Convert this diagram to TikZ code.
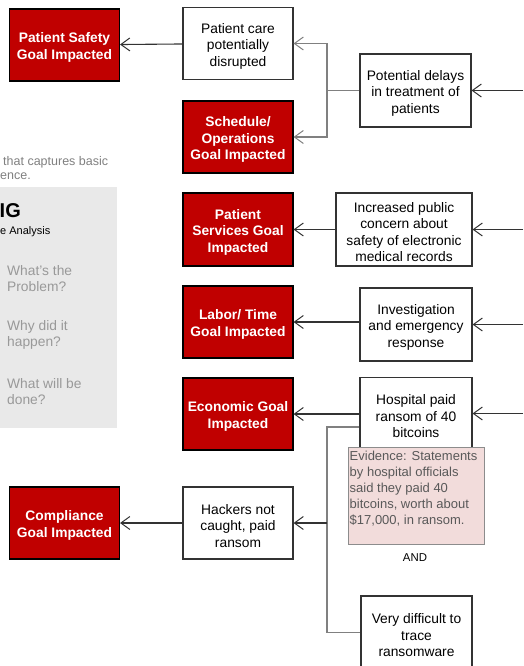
\documentclass[tikz,border=0pt]{standalone}
\usepackage{fontspec}
\setmainfont{Liberation Sans}
\usetikzlibrary{arrows.meta,calc}
\definecolor{goalred}{HTML}{C00000}
\definecolor{evfill}{HTML}{F2DCDB}
\definecolor{panelgray}{HTML}{E9E9E9}
\definecolor{hintgray}{HTML}{999999}

\begin{document}
\begin{tikzpicture}[x=1pt,y=-1pt,
    box/.style={draw=black!80,line width=1.1pt,fill=white,minimum width=110pt,minimum height=72pt,
      align=center,inner sep=1pt,font=\fontsize{13.8}{16.5}\selectfont,
      execute at begin node={\vbox\bgroup\vskip5.2pt\hbox\bgroup},
      execute at end node={\egroup\egroup}},
    goal/.style={box,fill=goalred,draw=black,text=white,font=\fontsize{13.8}{16.5}\selectfont\bfseries},
    link/.style={draw=black!80,line width=1.1pt,-{Straight Barb[length=9pt,width=13pt,line width=1pt]}},
    branch/.style={draw=black!50,line width=1.1pt},
    hint/.style={anchor=west,align=left,text=hintgray,inner sep=0pt,font=\fontsize{13.8}{16}\selectfont}]
  \path[use as bounding box] (0,0) rectangle (523,666);

  % left panel
  \node[anchor=west,text=black!50,inner sep=0pt,font=\fontsize{12.5}{15}\selectfont] (intro1) at (3,162) {that captures basic};
  \node[anchor=west,text=black!50,inner sep=0pt,font=\fontsize{12.5}{15}\selectfont] (intro2) at (0,176) {ence.};
  \fill[panelgray] (0,187) rectangle (117,428);
  \node[anchor=west,inner sep=0pt,font=\fontsize{20}{22}\selectfont\bfseries] (title) at (-0.5,211) {IG};
  \node[anchor=west,inner sep=0pt,font=\fontsize{11}{13}\selectfont] (sub) at (0,232) {e Analysis};
  \node[hint] (q1) at (7,279) {What's the\\Problem?};
  \node[hint] (q2) at (7,334.5) {Why did it\\happen?};
  \node[hint] (q3) at (7,391.5) {What will be\\done?};

  \coordinate (redge) at (523,0);

  \node[goal] (safety) at (64.5,45) {Patient Safety\\Goal Impacted};
  \node[box] (care) at (238,43.5) {Patient care\\potentially\\disrupted};
  \node[goal] (sched) at (238,137) {Schedule/\\Operations\\Goal Impacted};
  \node[box,minimum width=111pt,minimum height=73pt] (delays) at (415.5,90.5) {Potential delays\\in treatment of\\patients};

  \node[goal,minimum height=73pt] (services) at (238,229.5) {Patient\\Services Goal\\Impacted};
  \node[box,minimum width=136pt,minimum height=73pt] (concern) at (404,229.5) {Increased public\\concern about\\safety of electronic\\medical records};

  \node[goal] (labor) at (238,322) {Labor/ Time\\Goal Impacted};
  \node[box,minimum width=112pt,minimum height=73pt] (invest) at (416,324.5) {Investigation\\and emergency\\response};

  \node[goal] (econ) at (238,414) {Economic Goal\\Impacted};
  \node[box,minimum width=112pt] (paid) at (416,413.5) {Hospital paid\\ransom of 40\\bitcoins};

  \node[goal] (compl) at (64.5,523) {Compliance\\Goal Impacted};
  \node[box] (hackers) at (238,523) {Hackers not\\caught, paid\\ransom};
  \node[box,minimum width=111pt,minimum height=73pt] (trace) at (416.5,632.5) {Very difficult to\\trace\\ransomware};

  % evidence note
  \node[draw=black!45,line width=0.9pt,fill=evfill,minimum width=136pt,minimum height=97pt,
        anchor=north west,inner sep=0pt] (evbox) at (348,447) {};
  \node[anchor=north west,align=left,text=black!65,inner xsep=1.5pt,inner ysep=3.5pt,
        font=\fontsize{13}{16}\selectfont] (evid) at (evbox.north west)
    {Evidence: Statements\\by hospital officials\\said they paid 40\\bitcoins, worth about\\\$17,000, in ransom.};
  \node[font=\fontsize{11.4}{13}\selectfont,inner sep=0pt] (and) at (415,558) {AND};

  % incoming from the right
  \foreach \n in {delays,concern,invest,paid}
    \draw[link] (redge |- \n.east) -- (\n.east);

  \draw[link] (care) -- (safety);
  \draw[link] (concern) -- (services);
  \draw[link] (invest.west |- labor.east) -- (labor.east);
  \draw[link] (paid.west |- econ.east) -- (econ.east);
  \draw[link] (hackers) -- (compl);

  \coordinate (j1) at (327,90.5);
  \coordinate (j2) at (327,427);
  \draw[branch] (delays.west) -- (j1);
  \draw[link,branch] (j1) |- (care.east);
  \draw[link,branch] (j1) |- (sched.east);
  \draw[branch] (j2 -| paid.west) -- (j2) |- (trace.west);
  \draw[link] (j2 |- hackers.east) -- (hackers.east);
\end{tikzpicture}
\end{document}
